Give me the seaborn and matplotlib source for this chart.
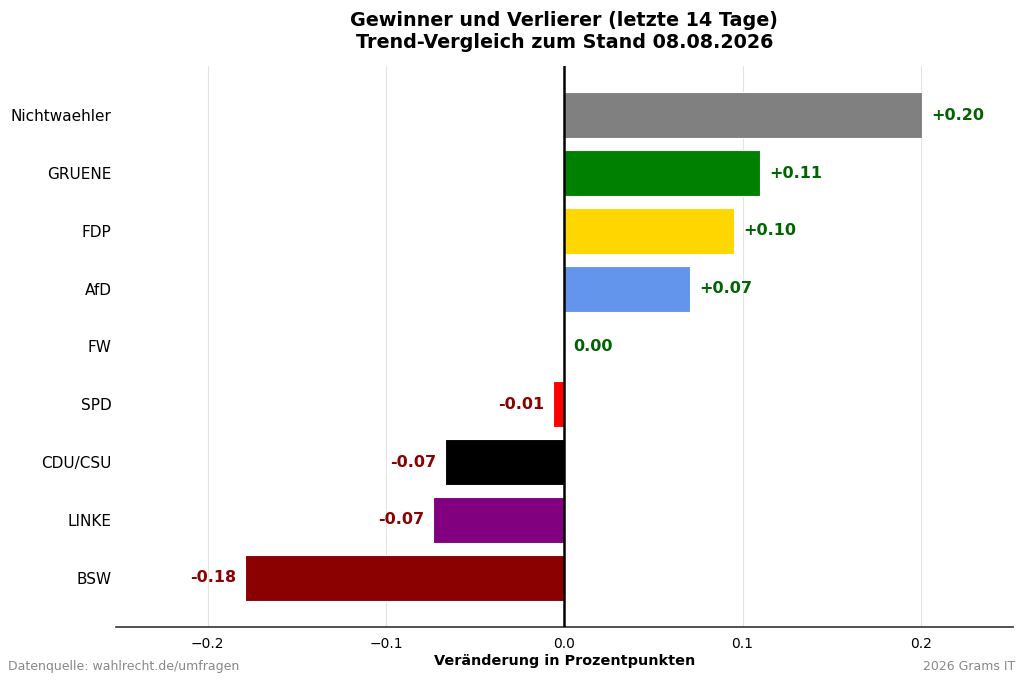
import numpy as np
import pandas as pd
import matplotlib
matplotlib.use("Agg")
import matplotlib.pyplot as plt
import seaborn as sns

# data
parteien = ['Nichtwaehler', 'GRUENE', 'FDP', 'AfD', 'FW', 'SPD', 'CDU/CSU', 'LINKE', 'BSW']
aenderung = [0.2006, 0.110, 0.0952, 0.0706, 0.0, -0.0062, -0.0667, -0.0734, -0.179]
farben = ['#808080', '#008000', '#FFD700', '#6495ED', '#1E90FF', '#FF0000', '#000000', '#800080', '#8B0000']

df = pd.DataFrame({'Partei': parteien, 'Delta': aenderung})

sns.set_style('white')
plt.rcParams['font.family'] = ['DejaVu Sans']
plt.rcParams['text.color'] = 'black'
plt.rcParams['axes.labelcolor'] = 'black'
plt.rcParams['xtick.color'] = 'black'
plt.rcParams['ytick.color'] = 'black'

fig = plt.figure(figsize=(10.24, 6.82), dpi=100)
ax = fig.add_axes([0.113, 0.081, 0.876, 0.822])

sns.barplot(data=df, y='Partei', x='Delta', hue='Partei', orient='h',
            palette=dict(zip(parteien, farben)), legend=False,
            width=0.8, edgecolor='white', linewidth=0.8, saturation=1, ax=ax)

ax.axvline(0, color='black', linewidth=1.8, zorder=3)

# value labels
for i, v in enumerate(aenderung):
    if v >= 0:
        txt = f'+{v:.2f}' if round(v, 2) > 0 else f'{v:.2f}'
        ax.text(v + 0.005, i, txt, va='center', ha='left', fontsize=11.5,
                fontweight='bold', color='#006400')
    else:
        ax.text(v - 0.005, i, f'{v:.2f}', va='center', ha='right', fontsize=11.5,
                fontweight='bold', color='#8B0000')

ax.set_xlim(-0.2515, 0.2515)
ax.set_ylim(8.85, -0.85)
ax.set_xticks([-0.2, -0.1, 0.0, 0.1, 0.2])
ax.grid(axis='x', color='#e3e3e3', linewidth=0.8)
ax.set_axisbelow(True)
ax.tick_params(axis='y', length=0, labelsize=11, pad=3)
ax.tick_params(axis='x', length=4, labelsize=10, color='#333333')
for s in ['top', 'right', 'left']:
    ax.spines[s].set_visible(False)
ax.spines['bottom'].set_color('#333333')
ax.spines['bottom'].set_linewidth(1.2)

ax.set_ylabel('')
ax.set_xlabel('Veränderung in Prozentpunkten', fontsize=10.4, fontweight='bold', labelpad=2)
ax.set_title('Gewinner und Verlierer (letzte 14 Tage)\nTrend-Vergleich zum Stand 08.08.2026',
             fontsize=13.8, fontweight='bold', pad=13, color='black')

fig.text(0.008, 0.018, 'Datenquelle: wahlrecht.de/umfragen', fontsize=9, color='#888888', ha='left')
fig.text(0.991, 0.018, '2026 Grams IT', fontsize=9, color='#888888', ha='right')

fig.savefig('out.png', dpi=100)
